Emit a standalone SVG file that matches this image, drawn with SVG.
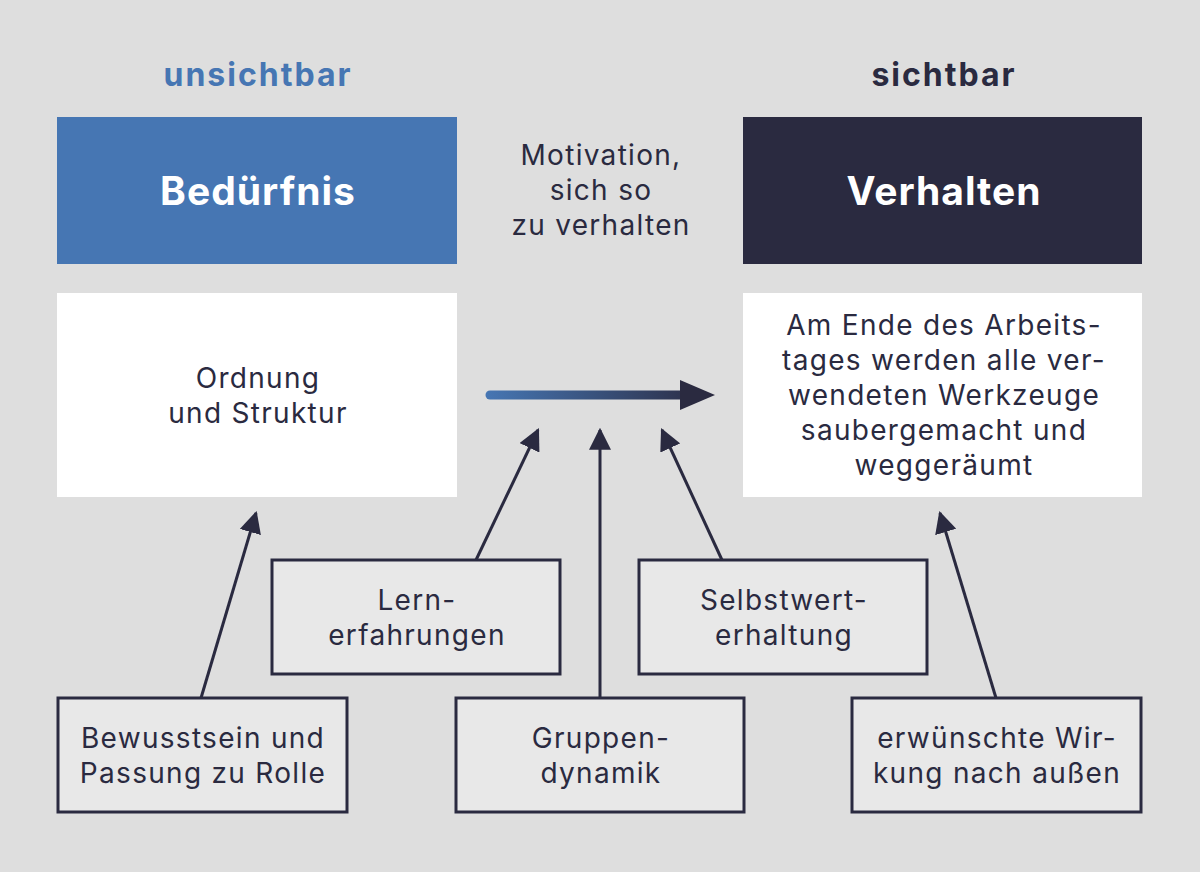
<svg xmlns="http://www.w3.org/2000/svg" width="1200" height="872" viewBox="0 0 1200 872">
<defs>
<linearGradient id="g" x1="486" y1="0" x2="715" y2="0" gradientUnits="userSpaceOnUse">
<stop offset="0" stop-color="#4676b3"/><stop offset="1" stop-color="#2a2a40"/>
</linearGradient>
<marker id="ah" viewBox="0 0 10 10" refX="9" refY="5" markerWidth="22" markerHeight="22" markerUnits="userSpaceOnUse" orient="auto"><path d="M0,0 L10,5 L0,10 z" fill="#2a2a40"/></marker>
</defs>
<style>
text{font-family:Inter,"Noto Sans","Liberation Sans",sans-serif;text-anchor:middle;fill:#2a2a40}
.h{font-size:32px;font-weight:700;letter-spacing:2px}
.t{font-size:39px;font-weight:700;fill:#ffffff;letter-spacing:1px}
.b{font-size:28px;letter-spacing:1.3px}
.sb{fill:#e8e8e8;stroke:#2a2a40;stroke-width:3}
.c{stroke:#2a2a40;stroke-width:3;fill:none}
</style>
<rect width="1200" height="872" fill="#dedede"/>
<text class="h" x="258" y="86" style="fill:#4676b3">unsichtbar</text>
<text class="h" x="944" y="86">sichtbar</text>
<g id="beduerfnis"><rect x="57" y="117" width="400" height="147" fill="#4676b3"/><text class="t" x="258" y="205">Bedürfnis</text></g>
<g id="verhalten"><rect x="743" y="117" width="399" height="147" fill="#2a2a40"/><text class="t" x="944" y="205">Verhalten</text></g>
<g id="motivation"><text class="b" x="601" y="165">Motivation,</text><text class="b" x="601" y="200">sich so</text><text class="b" x="601" y="235">zu verhalten</text></g>
<g id="ordnung"><rect x="57" y="293" width="400" height="204" fill="#ffffff"/><text class="b" x="258" y="388">Ordnung</text><text class="b" x="258" y="423">und Struktur</text></g>
<g id="beispiel"><rect x="743" y="293" width="399" height="204" fill="#ffffff"/>
<text class="b" x="944" y="335">Am Ende des Arbeits-</text><text class="b" x="944" y="370">tages werden alle ver-</text><text class="b" x="944" y="405">wendeten Werkzeuge</text><text class="b" x="944" y="440">saubergemacht und</text><text class="b" x="944" y="475">weggeräumt</text></g>
<g id="lern"><rect class="sb" x="272" y="560" width="288" height="114"/><text class="b" x="417" y="610">Lern-</text><text class="b" x="417" y="645">erfahrungen</text></g>
<g id="selbstwert"><rect class="sb" x="639" y="560" width="288" height="114"/><text class="b" x="784" y="610">Selbstwert-</text><text class="b" x="784" y="645">erhaltung</text></g>
<g id="bewusstsein"><rect class="sb" x="58" y="698" width="289" height="114"/><text class="b" x="203" y="748">Bewusstsein und</text><text class="b" x="203" y="783">Passung zu Rolle</text></g>
<g id="gruppen"><rect class="sb" x="456" y="698" width="288" height="114"/><text class="b" x="601" y="748">Gruppen-</text><text class="b" x="601" y="783">dynamik</text></g>
<g id="wirkung"><rect class="sb" x="852" y="698" width="289" height="114"/><text class="b" x="997" y="748">erwünschte Wir-</text><text class="b" x="997" y="783">kung nach außen</text></g>
<g id="connectors">
<line x1="490" y1="395" x2="684" y2="395" stroke="url(#g)" stroke-width="9" stroke-linecap="round"/>
<path d="M680,380 L715,395 L680,410 z" fill="#2a2a40"/>
<line class="c" x1="201" y1="698" x2="256" y2="513" marker-end="url(#ah)"/>
<line class="c" x1="476" y1="560" x2="538" y2="430" marker-end="url(#ah)"/>
<line class="c" x1="600" y1="698" x2="600" y2="430" marker-end="url(#ah)"/>
<line class="c" x1="722" y1="560" x2="662" y2="430" marker-end="url(#ah)"/>
<line class="c" x1="996" y1="698" x2="940" y2="513" marker-end="url(#ah)"/>
</g>
</svg>
